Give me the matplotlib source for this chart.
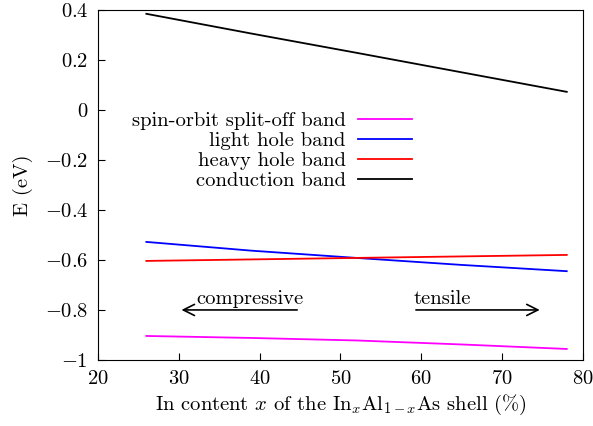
import matplotlib
matplotlib.use("Agg")
import matplotlib.pyplot as plt

plt.rcParams['font.family'] = 'serif'
plt.rcParams['font.serif'] = ['cmr10', 'DejaVu Serif']
plt.rcParams['mathtext.fontset'] = 'cm'
plt.rcParams['axes.formatter.use_mathtext'] = True
plt.rcParams['axes.unicode_minus'] = True

FS = 14.8

# band edges vs In content (%)
x = [26, 39, 52, 65, 78]
conduction = [0.384, 0.305, 0.228, 0.150, 0.072]
heavy_hole = [-0.604, -0.598, -0.592, -0.586, -0.580]
light_hole = [-0.528, -0.563, -0.592, -0.620, -0.645]
split_off = [-0.904, -0.912, -0.922, -0.938, -0.956]

fig = plt.figure(figsize=(5.93, 4.26), dpi=100)
ax = fig.add_axes([0.165, 0.155, 0.818, 0.822])

l_so, = ax.plot(x, split_off, color='#ff00ff', lw=1.3)
l_lh, = ax.plot(x, light_hole, color='#0000ff', lw=1.3)
l_hh, = ax.plot(x, heavy_hole, color='#ff0000', lw=1.3)
l_cb, = ax.plot(x, conduction, color='black', lw=1.3)

leg = ax.legend([l_so, l_lh, l_hh, l_cb],
                ['spin-orbit split-off band', 'light hole band',
                 'heavy hole band', 'conduction band'],
                markerfirst=False, frameon=False, fontsize=FS,
                loc='upper left', bbox_to_anchor=(0.049, 0.738),
                handlelength=2.6, labelspacing=0.08, borderpad=0,
                handletextpad=0.6)
for t in leg.get_texts():
    t.set_ha('right')

# strain arrows
ax.annotate('', xy=(30, -0.8), xytext=(45, -0.8),
            arrowprops=dict(arrowstyle='->', lw=1.2, mutation_scale=20))
ax.annotate('', xy=(75, -0.8), xytext=(59, -0.8),
            arrowprops=dict(arrowstyle='->', lw=1.2, mutation_scale=20))
ax.text(32.2, -0.775, 'compressive', fontsize=FS)
ax.text(59, -0.775, 'tensile', fontsize=FS)

ax.set_xlim(20, 80)
ax.set_ylim(-1, 0.4)
ax.set_xticks(range(20, 81, 10))
ax.set_yticks([-1, -0.8, -0.6, -0.4, -0.2, 0, 0.2, 0.4])
ax.set_yticklabels([r'$-1$', r'$-0.8$', r'$-0.6$', r'$-0.4$', r'$-0.2$',
                    r'$0$', r'$0.2$', r'$0.4$'])
ax.set_xticklabels([r'$%d$' % v for v in range(20, 81, 10)])
ax.tick_params(direction='in', length=5, labelsize=FS, width=0.8, pad=7)
ax.set_xlabel(r'In content $x$ of the In$_x$Al$_{1-x}$As shell (%)', fontsize=FS)
ax.set_ylabel('E (eV)', fontsize=FS, labelpad=8)

fig.savefig('out.png', dpi=100)
